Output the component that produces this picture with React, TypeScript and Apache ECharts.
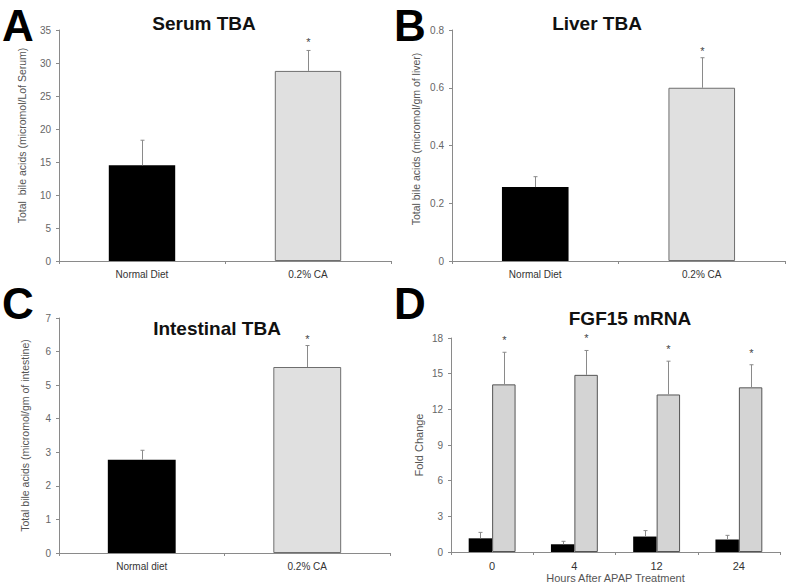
import React, { useEffect, useRef } from "react";
import * as echarts from "echarts";

const serumCategories = ["Normal Diet", "0.2% CA"];
const serumMean = [14.5, 28.8];
const serumSem = [3.8, 3.1];
const serumSig = [0, 1];

const liverCategories = ["Normal Diet", "0.2% CA"];
const liverMean = [0.256, 0.6];
const liverSem = [0.036, 0.104];
const liverSig = [0, 1];

const intestinalCategories = ["Normal diet", "0.2% CA"];
const intestinalMean = [2.78, 5.54];
const intestinalSem = [0.28, 0.64];
const intestinalSig = [0, 1];

const hourCategories = ["0", "4", "12", "24"];
const fgfNormalMean = [1.15, 0.65, 1.3, 1.05];
const fgfNormalSem = [0.5, 0.25, 0.5, 0.35];
const fgfNormalSig = [0, 0, 0, 0];
const fgfCaMean = [14.1, 14.9, 13.25, 13.85];
const fgfCaSem = [2.7, 2.05, 2.8, 1.9];
const fgfCaSig = [1, 1, 1, 1];

const FONT = "'Liberation Sans', Arial, sans-serif";

function errorSeries(
  idx: number,
  mean: number[],
  sem: number[],
  sig: number[],
  offsetFrac: number,
  color: string,
  starGap: number
) {
  return {
    type: "custom",
    xAxisIndex: idx,
    yAxisIndex: idx,
    z: 5,
    silent: true,
    data: mean.map((m, i) => [i, m, sem[i], sig[i]]),
    renderItem: (params: any, api: any) => {
      const x = api.value(0);
      const m = api.value(1);
      const s = api.value(2);
      const sg = api.value(3);
      const base = api.coord([x, m]);
      const top = api.coord([x, m + s]);
      const band = api.size([1, 0])[0];
      const cx = Math.round(base[0] + offsetFrac * band) + 0.5;
      const children: any[] = [
        {
          type: "line",
          shape: { x1: cx, y1: base[1], x2: cx, y2: top[1] },
          style: { stroke: color, lineWidth: 1 },
        },
        {
          type: "line",
          shape: { x1: cx - 2, y1: top[1], x2: cx + 2, y2: top[1] },
          style: { stroke: color, lineWidth: 1 },
        },
      ];
      if (sg) {
        children.push({
          type: "text",
          x: cx,
          y: top[1] - starGap,
          style: {
            text: "*",
            fill: "#444",
            font: `11px ${FONT}`,
            align: "center",
            verticalAlign: "middle",
          },
        });
      }
      return { type: "group", children };
    },
  };
}

function yAxisCfg(idx: number, name: string, max: number, interval: number, gap: number, pad: number, nameSize = 10.5) {
  return {
    type: "value",
    gridIndex: idx,
    min: 0,
    max,
    interval,
    name,
    nameLocation: "middle",
    nameGap: gap,
    nameTextStyle: {
      color: "#555",
      fontSize: nameSize,
      fontFamily: FONT,
      padding: [0, 0, 0, pad],
    },
    axisLine: { show: true, lineStyle: { color: "#8a8a8a", width: 1 } },
    axisTick: { show: true, length: 3, lineStyle: { color: "#8a8a8a" } },
    splitLine: { show: false },
    axisLabel: { color: "#666", fontSize: 10, fontFamily: FONT, margin: 8 },
  };
}

function xAxisCfg(idx: number, data: string[], labelSize = 10, extra: any = {}) {
  return {
    type: "category",
    gridIndex: idx,
    data,
    boundaryGap: true,
    axisLine: { show: true, lineStyle: { color: "#8a8a8a", width: 1 } },
    axisTick: { show: true, length: 3, lineStyle: { color: "#8a8a8a" } },
    axisLabel: { color: "#333", fontSize: labelSize, fontFamily: FONT, margin: 8 },
    ...extra,
  };
}

function barData(vals: number[], colors: string[], border: string[]) {
  return vals.map((v, i) => ({
    value: v,
    itemStyle: { color: colors[i], borderColor: border[i], borderWidth: border[i] === "none" ? 0 : 1 },
  }));
}

export default function App() {
  const ref = useRef<HTMLDivElement>(null);
  useEffect(() => {
    if (!ref.current) return;
    const chart = echarts.init(ref.current, null, { renderer: "svg" });
    const pairColors = ["#000000", "#e0e0e0"];
    const pairBorders = ["none", "#6e6e6e"];
    const letter = (t: string, x: number, y: number) => ({
      type: "text",
      x,
      y,
      style: {
        text: t,
        font: `bold 44px ${FONT}`,
        fill: "#000",
        align: "center",
        verticalAlign: "middle",
      },
    });
    const title = (t: string, x: number, y: number) => ({
      type: "text",
      x,
      y,
      style: {
        text: t,
        font: `bold 19px ${FONT}`,
        fill: "#111",
        align: "center",
        verticalAlign: "middle",
      },
    });
    chart.setOption({
      animation: false,
      backgroundColor: "#ffffff",
      grid: [
        { left: 59, top: 30, width: 332, height: 231 },
        { left: 452, top: 30, width: 333, height: 231 },
        { left: 59, top: 318, width: 331, height: 235 },
        { left: 451, top: 338, width: 329, height: 214 },
      ],
      xAxis: [
        xAxisCfg(0, serumCategories),
        xAxisCfg(1, liverCategories),
        xAxisCfg(2, intestinalCategories),
        xAxisCfg(3, hourCategories, 11, {
          name: "Hours After APAP Treatment",
          nameLocation: "middle",
          nameGap: 20,
          nameTextStyle: { color: "#555", fontSize: 11, fontFamily: FONT },
        }),
      ],
      yAxis: [
        yAxisCfg(0, "Total  bile acids (micromol/Lof Serum)", 35, 5, 32, 20),
        yAxisCfg(1, "Total bile acids (micromol/gm of liver)", 0.8, 0.2, 31, 13),
        yAxisCfg(2, "Total bile acids (micromol/gm of intestine)", 7, 1, 29, 0),
        yAxisCfg(3, "Fold Change", 18, 3, 27, 0, 11),
      ],
      series: [
        {
          type: "bar",
          xAxisIndex: 0,
          yAxisIndex: 0,
          barWidth: "40%",
          data: barData(serumMean, pairColors, pairBorders),
        },
        errorSeries(0, serumMean, serumSem, serumSig, 0, "#8a8a8a", 8),
        {
          type: "bar",
          xAxisIndex: 1,
          yAxisIndex: 1,
          barWidth: "40%",
          data: barData(liverMean, pairColors, pairBorders),
        },
        errorSeries(1, liverMean, liverSem, liverSig, 0, "#8a8a8a", 7),
        {
          type: "bar",
          xAxisIndex: 2,
          yAxisIndex: 2,
          barWidth: "41%",
          data: barData(intestinalMean, pairColors, pairBorders),
        },
        errorSeries(2, intestinalMean, intestinalSem, intestinalSig, 0, "#8a8a8a", 7),
        {
          type: "bar",
          xAxisIndex: 3,
          yAxisIndex: 3,
          barWidth: "28.5%",
          barGap: "0%",
          itemStyle: { color: "#000000" },
          data: fgfNormalMean,
        },
        {
          type: "bar",
          xAxisIndex: 3,
          yAxisIndex: 3,
          barWidth: "28.5%",
          barGap: "0%",
          itemStyle: { color: "#d4d4d4", borderColor: "#555555", borderWidth: 1 },
          data: fgfCaMean,
        },
        errorSeries(3, fgfNormalMean, fgfNormalSem, fgfNormalSig, -0.1425, "#8a8a8a", 12),
        errorSeries(3, fgfCaMean, fgfCaSem, fgfCaSig, 0.1425, "#8a8a8a", 12),
      ],
      graphic: [
        letter("A", 18, 25.5),
        letter("B", 410, 25.5),
        letter("C", 18, 303),
        letter("D", 410, 303),
        title("Serum TBA", 204, 23),
        title("Liver TBA", 597, 23),
        title("Intestinal TBA", 217, 328),
        title("FGF15 mRNA", 630, 318),
      ],
    });
    return () => chart.dispose();
  }, []);
  return (
    <div
      ref={ref}
      style={{ position: "fixed", left: 0, top: 0, width: 788, height: 584, background: "#fff" }}
    />
  );
}
